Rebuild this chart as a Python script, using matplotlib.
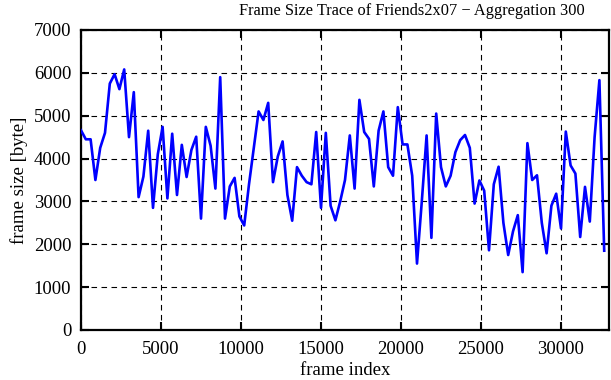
import matplotlib
matplotlib.use("Agg")
import matplotlib.pyplot as plt

title = "Frame Size Trace of Friends2x07 \u2212 Aggregation 300"
x_label = "frame index"
y_label = "frame size [byte]"
aggregation = 300

frame_size = [
    4660, 4450, 4450, 3500, 4250, 4600, 5750, 5970, 5620, 6080,
    4500, 5550, 3100, 3580, 4650, 2850, 4100, 4740, 3070, 4580,
    3150, 4320, 3570, 4200, 4510, 2600, 4740, 4300, 3300, 5900,
    2600, 3350, 3550, 2650, 2440, 3400, 4250, 5100, 4900, 5300,
    3450, 4050, 4400, 3150, 2550, 3800, 3600, 3450, 3400, 4620,
    2850, 4600, 2900, 2560, 3000, 3500, 4540, 3300, 5370, 4620,
    4460, 3350, 4650, 5100, 3800, 3600, 5200, 4330, 4330, 3600,
    1550, 3000, 4540, 2150, 5050, 3800, 3350, 3600, 4150, 4430,
    4550, 4250, 2950, 3490, 3250, 1860, 3400, 3810, 2500, 1750,
    2300, 2680, 1350, 4360, 3500, 3610, 2500, 1790, 2900, 3180,
    2370, 4630, 3840, 3650, 2170, 3340, 2530, 4500, 5830, 1850,
]
frame_index = [i * aggregation for i in range(len(frame_size))]

x_ticks = [0, 5000, 10000, 15000, 20000, 25000, 30000]
y_ticks = [0, 1000, 2000, 3000, 4000, 5000, 6000, 7000]

plt.rcParams["font.family"] = ["Liberation Serif", "DejaVu Serif"]
plt.rcParams["font.size"] = 13.5

fig = plt.figure(figsize=(6.11, 3.80), dpi=100)
ax = fig.add_axes([81 / 611, 1 - 330 / 380, 528 / 611, 300 / 380])

ax.plot(frame_index, frame_size, color="#0000ff", linewidth=1.9, zorder=3)

ax.set_xlim(0, 33000)
ax.set_ylim(0, 7000)
ax.set_xticks(x_ticks)
ax.set_yticks(y_ticks)
ax.grid(True, color="black", linestyle=(0, (5, 4)), linewidth=0.8)
ax.tick_params(direction="in", length=6, width=1.5, top=True, right=True,
               labelsize=13.5)
ax.tick_params(axis="x", pad=8)
ax.tick_params(axis="y", pad=7)
for s in ax.spines.values():
    s.set_linewidth(1.6)

fig.text(412 / 611, 1 - 11 / 380, title, fontsize=11.8, ha="center", va="center")
ax.set_xlabel(x_label, labelpad=3)
ax.set_ylabel(y_label, labelpad=4)

fig.savefig("out.png", dpi=100)
